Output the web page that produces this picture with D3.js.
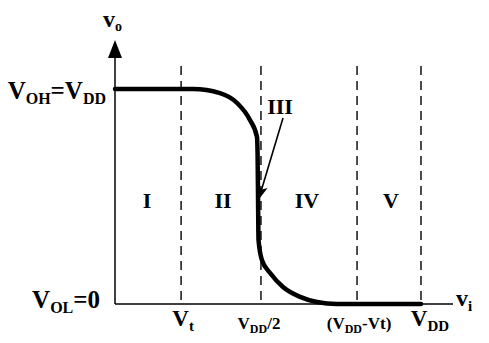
<!DOCTYPE html>
<html>
<head>
<meta charset="utf-8">
<script src="https://cdn.jsdelivr.net/npm/d3@7"></script>
<style>
  html, body { margin: 0; padding: 0; background: #fff; }
  svg { display: block; }
  text { font-family: "Liberation Serif", "Times New Roman", serif; font-weight: bold; fill: #000; }
</style>
</head>
<body>
<div id="chart"></div>
<script>
const W = 489;
const H = 343;

// transfer curve, both axes in % of VDD
const vin  = [0, 25.5, 34.3, 39.9, 44.1, 46.4, 46.6, 46.75, 46.9, 48.0, 50.7, 54.9, 60.5, 66.0, 72.5, 100];
const vout = [100, 100, 98.1, 93.5, 85.6, 77.7, 69.3, 48.4, 29.8, 20.5, 14.4, 7.9, 3.3, 0.9, 0, 0];

// region boundaries (dashed) and x tick labels
const bounds = [21.6, 47.7, 79.1, 100];
const xTickLabels = [
  [['V', 'm'], ['t', 's']],
  [['V', 'm'], ['DD', 's'], ['/2', 'm']],
  [['(V', 'm'], ['DD', 's'], ['-Vt)', 'm']],
  [['V', 'm'], ['DD', 's']]
];

// y ticks
const yTicks = [100, 0];
const yTickLabels = [
  [['V', 'm'], ['OH', 's'], ['=V', 'm'], ['DD', 's']],
  [['V', 'm'], ['OL', 's'], ['=0', 'm']]
];

// operating regions
const regionNames = ['I', 'II', 'IV', 'V'];
const regionX = [10.5, 35.3, 62.7, 90.2];

const x = d3.scaleLinear().domain([0, 100]).range([115, 421]);
const y = d3.scaleLinear().domain([0, 100]).range([304, 89]);

const svg = d3.select('#chart').append('svg')
  .attr('width', W)
  .attr('height', H);

// rich label with subscripts
function label(sel, parts, main, sub) {
  let down = false;
  parts.forEach(([s, k]) => {
    const sp = sel.append('tspan').text(s);
    if (k === 's') {
      sp.attr('font-size', sub).attr('dy', down ? 0 : sub * 0.3);
      down = true;
    } else {
      sp.attr('font-size', main).attr('dy', down ? -sub * 0.3 : 0);
      down = false;
    }
  });
  return sel;
}

// filled arrowhead at (x2,y2) pointing away from (x1,y1)
function arrowHead(x1, y1, x2, y2, len, half, notch) {
  const a = Math.atan2(y2 - y1, x2 - x1);
  const c = Math.cos(a), s = Math.sin(a);
  const bx = x2 - len * c, by = y2 - len * s;
  const nx = x2 - (len - notch) * c, ny = y2 - (len - notch) * s;
  const p = d3.path();
  p.moveTo(x2, y2);
  p.lineTo(bx - half * s, by + half * c);
  p.lineTo(nx, ny);
  p.lineTo(bx + half * s, by - half * c);
  p.closePath();
  svg.append('path').attr('d', p.toString()).attr('fill', '#000');
}

// dashed region boundaries
svg.append('g')
  .selectAll('line')
  .data(bounds)
  .join('line')
  .attr('x1', d => x(d)).attr('x2', d => x(d))
  .attr('y1', 66).attr('y2', y(0))
  .attr('stroke', '#000')
  .attr('stroke-width', 1.4)
  .attr('stroke-dasharray', '9,6');

// axes
svg.append('line')
  .attr('x1', x(0)).attr('x2', 453)
  .attr('y1', y(0)).attr('y2', y(0))
  .attr('stroke', '#000').attr('stroke-width', 1.5);
svg.append('line')
  .attr('x1', x(0)).attr('x2', x(0))
  .attr('y1', y(0)).attr('y2', 52)
  .attr('stroke', '#000').attr('stroke-width', 1.5);
arrowHead(x(0), y(0), x(0), 40, 18, 7, 0);

// transfer curve
const line = d3.line()
  .x(d => x(d[0]))
  .y(d => y(d[1]))
  .curve(d3.curveMonotoneX);
svg.append('path')
  .datum(d3.zip(vin, vout))
  .attr('d', line)
  .attr('fill', 'none')
  .attr('stroke', '#000')
  .attr('stroke-width', 4.5)
  .attr('stroke-linecap', 'round');

// x tick labels
const xDx = [2, -2, 2, 9];
bounds.forEach((b, i) => {
  const big = i === 0 || i === 3;
  label(svg.append('text')
    .attr('x', x(b) + xDx[i])
    .attr('y', big ? 326 : 329)
    .attr('text-anchor', 'middle'),
    xTickLabels[i], big ? 23 : 17, big ? 15 : 12);
});

// y tick labels
const yDx = [-9, -15];
const yDy = [10, 4];
yTicks.forEach((v, i) => {
  label(svg.append('text')
    .attr('x', x(0) + yDx[i])
    .attr('y', y(v) + yDy[i])
    .attr('text-anchor', 'end'),
    yTickLabels[i], 25, 16);
});

// axis titles
label(svg.append('text').attr('x', 103).attr('y', 27), [['v', 'm'], ['o', 's']], 24, 14);
label(svg.append('text').attr('x', 456).attr('y', 306), [['v', 'm'], ['i', 's']], 24, 15);

// region labels
svg.append('g')
  .selectAll('text')
  .data(regionNames)
  .join('text')
  .attr('x', (d, i) => x(regionX[i]))
  .attr('y', 208)
  .attr('text-anchor', 'middle')
  .attr('font-size', 22)
  .text(d => d);

// region III callout
svg.append('text')
  .attr('x', 280).attr('y', 114)
  .attr('text-anchor', 'middle')
  .attr('font-size', 22)
  .text('III');
const tipX = x(47.1), tipY = y(48.8);
svg.append('line')
  .attr('x1', 283).attr('y1', 118)
  .attr('x2', tipX + 2).attr('y2', tipY - 8)
  .attr('stroke', '#000').attr('stroke-width', 1.6);
arrowHead(283, 118, tipX, tipY, 13, 5, 3);
</script>
</body>
</html>
